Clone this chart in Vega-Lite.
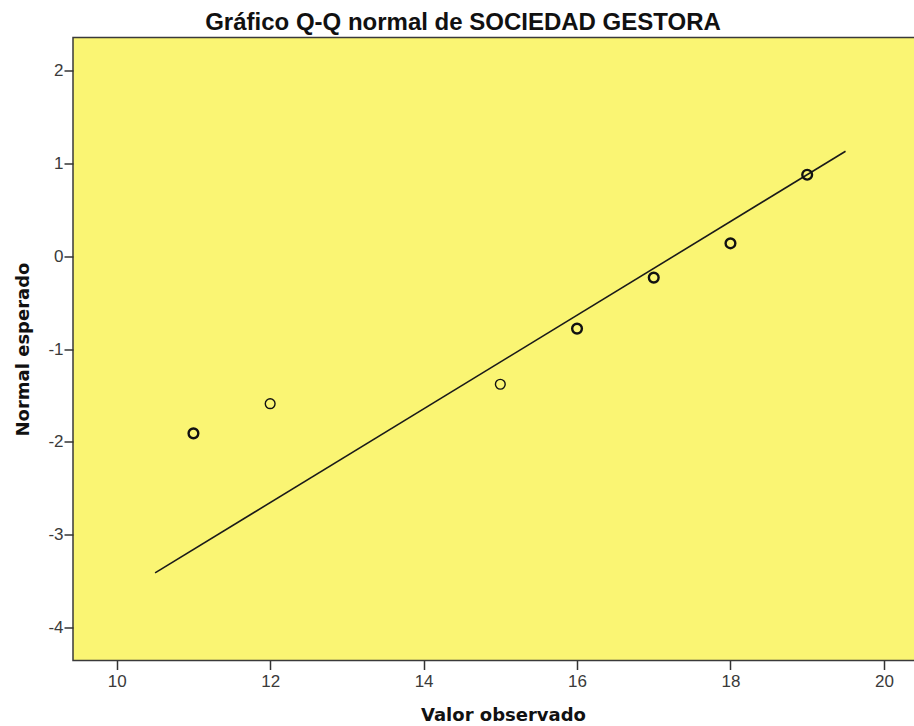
{
  "$schema": "https://vega.github.io/schema/vega-lite/v6.json",
  "width": 860,
  "height": 623,
  "autosize": "none",
  "padding": {"left": 73, "top": 37.5, "right": 0, "bottom": 66},
  "background": "#ffffff",
  "title": {
    "text": "Gráfico Q-Q normal de SOCIEDAD GESTORA",
    "font": "Liberation Sans",
    "fontSize": 24,
    "fontWeight": "bold",
    "color": "#111111",
    "anchor": "middle",
    "dx": -40,
    "offset": 3
  },
  "config": {
    "view": {"fill": "#FAF573", "stroke": "#3a3a3a", "strokeWidth": 1.5},
    "axis": {
      "grid": false,
      "domain": false,
      "tickColor": "#333333",
      "tickSize": 9,
      "tickWidth": 1.5,
      "labelFont": "Liberation Sans",
      "labelFontSize": 17,
      "labelColor": "#3a3a3a",
      "labelExpr": "'' + datum.value",
      "titleFont": "DejaVu Sans",
      "titleFontSize": 18,
      "titleFontWeight": "bold",
      "titleColor": "#111111"
    }
  },
  "datasets": {
    "points": [
      {"observado": 11, "esperado": -1.91, "n": 2},
      {"observado": 12, "esperado": -1.59, "n": 1},
      {"observado": 15, "esperado": -1.38, "n": 1},
      {"observado": 16, "esperado": -0.78, "n": 2},
      {"observado": 17, "esperado": -0.23, "n": 2},
      {"observado": 18, "esperado": 0.14, "n": 2},
      {"observado": 19, "esperado": 0.88, "n": 2}
    ],
    "linea": [
      {"observado": 10.5, "esperado": -3.415},
      {"observado": 19.5, "esperado": 1.133}
    ]
  },
  "layer": [
    {
      "data": {"name": "linea"},
      "mark": {"type": "line", "color": "#1a1a1a", "strokeWidth": 1.6, "clip": true},
      "encoding": {
        "x": {
          "field": "observado",
          "type": "quantitative",
          "scale": {"domain": [9.43, 20.64], "nice": false, "zero": false},
          "axis": {
            "values": [10, 12, 14, 16, 18, 20],
            "title": "Valor observado",
            "labelPadding": 4,
            "titlePadding": 17
          }
        },
        "y": {
          "field": "esperado",
          "type": "quantitative",
          "scale": {"domain": [-4.36, 2.36], "nice": false, "zero": false},
          "axis": {
            "values": [-4, -3, -2, -1, 0, 1, 2],
            "title": "Normal esperado",
            "labelPadding": 1,
            "titlePadding": 15
          }
        }
      }
    },
    {
      "data": {"name": "points"},
      "mark": {"type": "point", "shape": "circle", "filled": false, "size": 95, "color": "#111111", "opacity": 1},
      "encoding": {
        "x": {"field": "observado", "type": "quantitative"},
        "y": {"field": "esperado", "type": "quantitative"},
        "strokeWidth": {
          "field": "n",
          "type": "quantitative",
          "scale": {"domain": [1, 2], "range": [1.4, 2.4]},
          "legend": null
        }
      }
    }
  ]
}
